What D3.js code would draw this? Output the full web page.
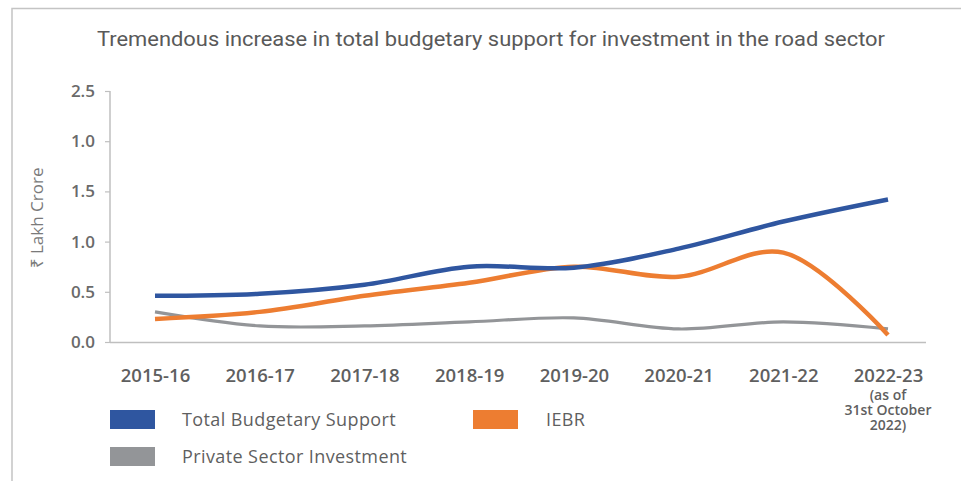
<!DOCTYPE html>
<html><head><meta charset="utf-8">
<script src="https://cdn.jsdelivr.net/npm/d3@7"></script>
<style>html,body{margin:0;padding:0;background:#fff;}svg{display:block;}</style>
</head><body>
<svg id="c" width="961" height="481"></svg>
<script>
const categories = ["2015-16","2016-17","2017-18","2018-19","2019-20","2020-21","2021-22","2022-23"];
const lastCategoryNote = ["(as of","31st October","2022)"];
const totalBudgetarySupport = [0.46,0.48,0.57,0.75,0.74,0.93,1.20,1.42];
const iebr = [0.23,0.30,0.46,0.59,0.75,0.65,0.89,0.07];
const privateSector = [0.30,0.16,0.16,0.20,0.24,0.13,0.20,0.13];
const yTickValues = [0,0.5,1,1.5,2,2.5];
const yTickLabels = ["0.0","0.5","1.0","1.5","1.0","2.5"];
const seriesNames = ["Total Budgetary Support","IEBR","Private Sector Investment"];
const title = "Tremendous increase in total budgetary support for investment in the road sector";
const yLabel = "₹ Lakh Crore";

const series = [
  {name: seriesNames[0], values: totalBudgetarySupport, color: "#2f56a0", width: 4.5},
  {name: seriesNames[1], values: iebr, color: "#ed7d31", width: 4.5},
  {name: seriesNames[2], values: privateSector, color: "#939598", width: 3.2}
];

const svg = d3.select("#c");
const font = "Roboto, 'Open Sans', sans-serif";

// outer frame
svg.append("path").attr("d","M12,481 V8.5 H961").attr("fill","none").attr("stroke","#c4c4c4").attr("stroke-width",1.5);

const x = d3.scalePoint().domain(categories).range([155, 888]);
const y = d3.scaleLinear().domain([0,2.5]).range([342, 91]);

// title
svg.append("text").attr("x",491).attr("y",46).attr("text-anchor","middle")
  .attr("font-family",font).attr("font-size",20).attr("fill","#595959")
  .attr("textLength",788).attr("lengthAdjust","spacingAndGlyphs").text(title);

// y axis
const yAxis = svg.append("g").attr("transform","translate(110,0)")
  .call(d3.axisLeft(y).tickValues(yTickValues).tickSize(5).tickPadding(10)
    .tickFormat((d,i)=>yTickLabels[i]));
yAxis.select(".domain").attr("stroke","#bfbfbf").attr("stroke-width",1.5).attr("d","M0,91V342");
yAxis.selectAll(".tick line").attr("stroke","#bfbfbf").attr("stroke-width",1.2);
yAxis.selectAll(".tick text").attr("font-family","'Open Sans', sans-serif").attr("font-weight",600)
  .attr("font-size",17).attr("fill","#6a6a6a");

// x axis line
svg.append("line").attr("x1",110).attr("x2",926).attr("y1",342.5).attr("y2",342.5)
  .attr("stroke","#bfbfbf").attr("stroke-width",1.5);

const xAxis = svg.append("g").attr("transform","translate(0,342)")
  .call(d3.axisBottom(x).tickSize(0).tickPadding(27));
xAxis.select(".domain").remove();
xAxis.selectAll(".tick text").attr("font-family","'Open Sans', sans-serif").attr("font-weight",600)
  .attr("font-size",18.5).attr("fill","#5f5f5f");

// note under last category
svg.append("g").selectAll("text").data(lastCategoryNote).join("text")
  .attr("x", x(categories[categories.length-1])).attr("y",(d,i)=>400+i*15)
  .attr("text-anchor","middle").attr("font-family","'Open Sans', sans-serif").attr("font-weight",600)
  .attr("font-size",14).attr("fill","#5f5f5f").text(d=>d);

// y label
svg.append("text").attr("transform","translate(43,218) rotate(-90)").attr("text-anchor","middle")
  .attr("font-family","'Open Sans', sans-serif").attr("font-size",17).attr("fill","#7a7a7a").text(yLabel);

// lines
const line = d3.line().x((d,i)=>x(categories[i])).y(d=>y(d)).curve(d3.curveCatmullRom.alpha(0.5));
svg.append("g").selectAll("path").data(series.slice().reverse()).join("path")
  .attr("d", d=>line(d.values)).attr("fill","none").attr("stroke",d=>d.color)
  .attr("stroke-width",d=>d.width).attr("stroke-linejoin","round");

// legend
const legendPos = [{x:110,y:410},{x:473,y:410},{x:110,y:447}];
const lg = svg.append("g").selectAll("g").data(series).join("g")
  .attr("transform",(d,i)=>`translate(${legendPos[i].x},${legendPos[i].y})`);
lg.append("rect").attr("width",45).attr("height",19).attr("fill",d=>d.color);
lg.append("text").attr("x",(d,i)=> i===1 ? 73 : 72).attr("y",16)
  .attr("font-family","'Open Sans', sans-serif").attr("font-weight",500).attr("font-size",18)
  .attr("letter-spacing",0.4).attr("fill","#5f5f5f").text(d=>d.name);
</script>
</body></html>
